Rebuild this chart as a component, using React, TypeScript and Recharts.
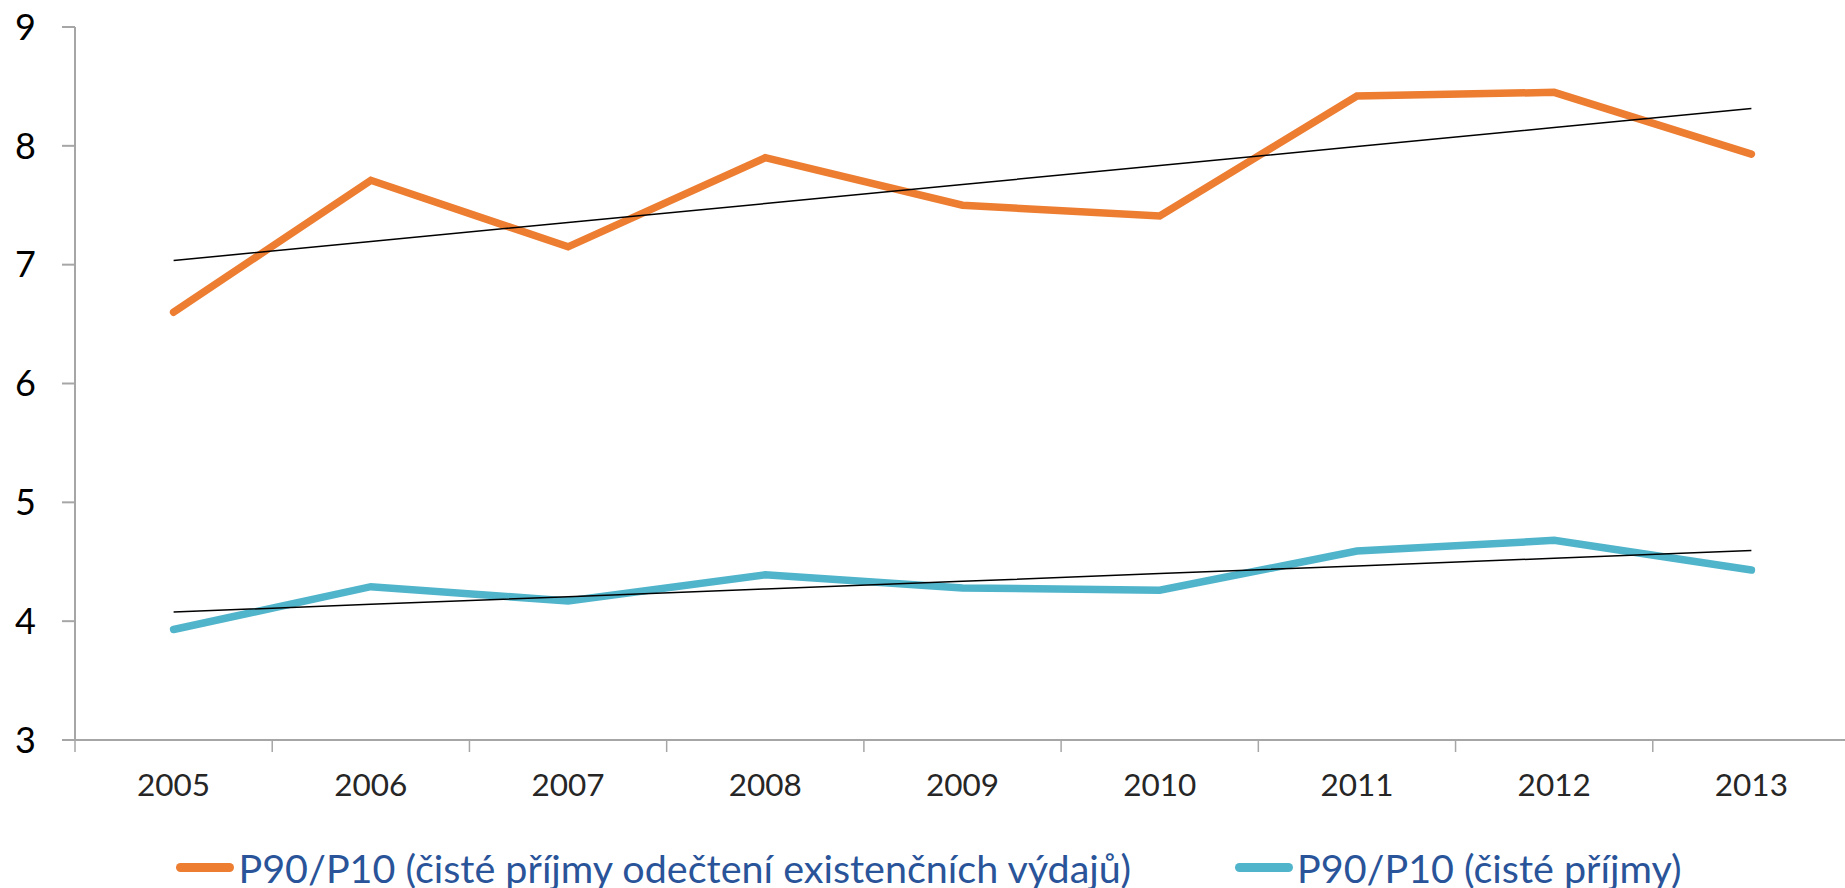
import React from 'react';
import { LineChart, Line, XAxis, YAxis, Legend } from 'recharts';

const years = [2005, 2006, 2007, 2008, 2009, 2010, 2011, 2012, 2013];
const afterExpenses = [6.6, 7.71, 7.15, 7.9, 7.5, 7.41, 8.42, 8.45, 7.93];
const netIncome = [3.93, 4.29, 4.17, 4.39, 4.28, 4.26, 4.59, 4.68, 4.43];
const yTicks = [3, 4, 5, 6, 7, 8, 9];
const boundaryTicks = [2004.5, 2005.5, 2006.5, 2007.5, 2008.5, 2009.5, 2010.5, 2011.5, 2012.5, 2013.5];
const nameAfter = 'P90/P10 (čisté příjmy odečtení existenčních výdajů)';
const nameNet = 'P90/P10 (čisté příjmy)';

const ORANGE = '#ED7D31';
const BLUE = '#50B4CB';
const AXIS = '#A6A6A6';
const FONT = 'Lato, "Open Sans", sans-serif';

// Least-squares linear trend (as Excel's linear trendline)
function linearTrend(xs: number[], ys: number[]): number[] {
  const n = xs.length;
  const mx = xs.reduce((a, b) => a + b, 0) / n;
  const my = ys.reduce((a, b) => a + b, 0) / n;
  let sxy = 0;
  let sxx = 0;
  for (let i = 0; i < n; i++) {
    sxy += (xs[i] - mx) * (ys[i] - my);
    sxx += (xs[i] - mx) * (xs[i] - mx);
  }
  const slope = sxy / sxx;
  return xs.map((x) => my + slope * (x - mx));
}

const trendAfter = linearTrend(years, afterExpenses);
const trendNet = linearTrend(years, netIncome);

const data = years.map((year, i) => ({
  year,
  after: afterExpenses[i],
  net: netIncome[i],
  trendAfter: trendAfter[i],
  trendNet: trendNet[i],
}));

const EmptyTick = () => <g />;

const renderLegend = (props: any) => {
  const payload = (props.payload || []).filter((p: any) => p.type !== 'none');
  return (
    <div
      style={{
        display: 'flex',
        justifyContent: 'center',
        alignItems: 'center',
        gap: 104,
        paddingLeft: 8,
        height: 58,
        fontFamily: FONT,
        fontSize: 39.5,
        color: '#2A5499',
        whiteSpace: 'nowrap',
      }}
    >
      {payload.map((p: any) => (
        <div key={p.value} style={{ display: 'flex', alignItems: 'center', marginTop: 16 }}>
          <div
            style={{
              width: 58,
              height: 9,
              borderRadius: 5,
              background: p.color,
              marginRight: 4,
            }}
          />
          <span>{p.value}</span>
        </div>
      ))}
    </div>
  );
};

export default function App() {
  return (
    <div style={{ position: 'absolute', left: 0, top: 0, width: 1845, height: 888, overflow: 'hidden', background: '#fff' }}>
      <LineChart
        width={1855}
        height={888}
        data={data}
        margin={{ top: 27, right: 5, bottom: 0, left: 0 }}
      >
        <YAxis
          type="number"
          domain={[3, 9]}
          ticks={yTicks}
          interval={0}
          width={75}
          tickSize={13}
          tickMargin={26}
          axisLine={{ stroke: AXIS, strokeWidth: 2 }}
          tickLine={{ stroke: AXIS, strokeWidth: 2 }}
          tick={{ fill: '#000', fontSize: 36, fontFamily: FONT }}
          allowDataOverflow
        />
        <XAxis
          xAxisId={0}
          dataKey="year"
          type="number"
          domain={[2004.5, 2013.5]}
          ticks={boundaryTicks}
          interval={0}
          height={12}
          tickSize={12}
          axisLine={{ stroke: AXIS, strokeWidth: 2 }}
          tickLine={{ stroke: AXIS, strokeWidth: 1.5 }}
          tick={EmptyTick}
          allowDataOverflow
        />
        <XAxis
          xAxisId="labels"
          dataKey="year"
          type="number"
          domain={[2004.5, 2013.5]}
          ticks={years}
          interval={0}
          height={78}
          tickSize={0}
          tickMargin={22}
          axisLine={false}
          tickLine={false}
          tick={{ fill: '#262626', fontSize: 31.5, fontFamily: FONT }}
          allowDataOverflow
        />
        <Legend verticalAlign="bottom" height={58} content={renderLegend} />
        <Line
          dataKey="after"
          name={nameAfter}
          stroke={ORANGE}
          strokeWidth={7.5}
          strokeLinecap="round"
          dot={false}
          activeDot={false}
          isAnimationActive={false}
        />
        <Line
          dataKey="net"
          name={nameNet}
          stroke={BLUE}
          strokeWidth={7.5}
          strokeLinecap="round"
          dot={false}
          activeDot={false}
          isAnimationActive={false}
        />
        <Line
          dataKey="trendAfter"
          stroke="#000"
          strokeWidth={1.5}
          dot={false}
          activeDot={false}
          legendType="none"
          isAnimationActive={false}
        />
        <Line
          dataKey="trendNet"
          stroke="#000"
          strokeWidth={1.5}
          dot={false}
          activeDot={false}
          legendType="none"
          isAnimationActive={false}
        />
      </LineChart>
    </div>
  );
}
